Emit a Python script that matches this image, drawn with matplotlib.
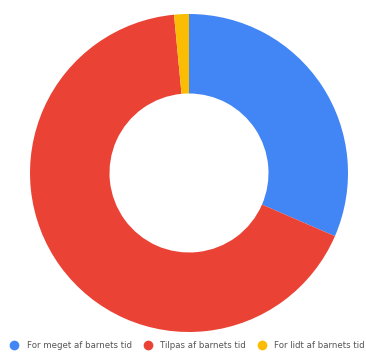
import matplotlib.pyplot as plt
from matplotlib.lines import Line2D

labels = ["For meget af barnets tid", "Tilpas af barnets tid", "For lidt af barnets tid"]
values = [31.5, 67.0, 1.5]
colors = ["#4285F4", "#EA4335", "#FBBC04"]

fig = plt.figure(figsize=(3.66, 3.54), dpi=100)
ax = fig.add_axes([30 / 366, 22 / 354, 318 / 366, 318 / 354])
ax.pie(values, colors=colors, startangle=90, counterclock=False,
       wedgeprops=dict(width=0.5, linewidth=0), radius=1.0)
ax.set_xlim(-1, 1)
ax.set_ylim(-1, 1)

handles = [Line2D([0], [0], marker='o', color='w', markerfacecolor=c,
                  markeredgewidth=0, markersize=7) for c in colors]
fig.legend(handles, labels, loc='center left', bbox_to_anchor=(0.027, 0.023),
           ncol=3, frameon=False, fontsize=6.2, handletextpad=0.95,
           columnspacing=1.35, handlelength=1.0, borderpad=0, borderaxespad=0,
           labelcolor='#555555')

fig.savefig("out.png", dpi=100)
